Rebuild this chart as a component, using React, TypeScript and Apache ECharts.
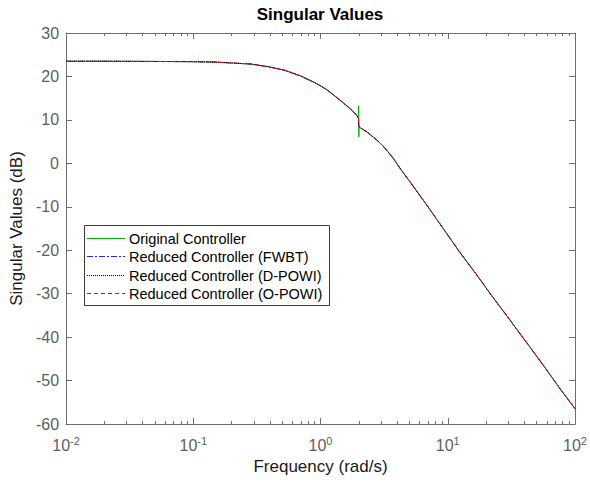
import React, { useEffect, useRef } from 'react';
import * as echarts from 'echarts';

// Frequencies (rad/s) at which the singular values were read
const FREQ = [
  0.01, 0.02, 0.05, 0.1, 0.15, 0.2, 0.285, 0.385, 0.52, 0.7, 0.94, 1.1, 1.27, 1.5, 1.71, 1.93,
  1.985, 1.995, 2.0, 2.01, 2.05, 2.3, 2.76, 3.1, 3.72, 4.3, 5.0, 6.8, 9.1, 12.3, 17, 22.3, 30,
  35, 45, 58, 75, 100,
];

// Singular values (dB)
const ORIGINAL_DB = [
  23.5, 23.5, 23.45, 23.4, 23.3, 23.1, 22.85, 22.25, 21.45, 20.1, 18.3, 17.1, 15.7, 14.0, 12.6, 11.0,
  10.4, 13.2, 6.1, 8.5, 8.2, 7.3, 5.4, 4.0, 1.2, -1.5, -4.1, -9.5, -14.8, -20.3, -25.8, -30.6, -35.6,
  -38.3, -42.6, -47.0, -51.6, -56.5,
];
const FWBT_DB = [
  23.5, 23.5, 23.45, 23.4, 23.3, 23.1, 22.85, 22.25, 21.45, 20.1, 18.3, 17.1, 15.7, 14.0, 12.6, 11.0,
  10.4, 10.3, 8.4, 8.5, 8.2, 7.3, 5.4, 4.0, 1.2, -1.5, -4.1, -9.5, -14.8, -20.3, -25.8, -30.6, -35.6,
  -38.3, -42.6, -47.0, -51.6, -56.5,
];
const DPOWI_DB = [
  23.5, 23.5, 23.45, 23.4, 23.3, 23.1, 22.85, 22.25, 21.45, 20.1, 18.3, 17.1, 15.7, 14.0, 12.6, 11.0,
  10.4, 10.3, 8.4, 8.5, 8.2, 7.3, 5.4, 4.0, 1.2, -1.5, -4.1, -9.5, -14.8, -20.3, -25.8, -30.6, -35.6,
  -38.3, -42.6, -47.0, -51.6, -56.5,
];
const OPOWI_DB = [
  23.5, 23.5, 23.45, 23.4, 23.3, 23.1, 22.85, 22.25, 21.45, 20.1, 18.3, 17.1, 15.7, 14.0, 12.6, 11.0,
  10.4, 10.3, 8.4, 8.5, 8.2, 7.3, 5.4, 4.0, 1.2, -1.5, -4.1, -9.5, -14.8, -20.3, -25.8, -30.6, -35.6,
  -38.3, -42.6, -47.0, -51.6, -56.5,
];

const SERIES_NAMES = [
  'Original Controller',
  'Reduced Controller (FWBT)',
  'Reduced Controller (D-POWI)',
  'Reduced Controller (O-POWI)',
];

const MINOR_TICKS = [
  0.02, 0.03, 0.04, 0.05, 0.06, 0.07, 0.08, 0.09,
  0.2, 0.3, 0.4, 0.5, 0.6, 0.7, 0.8, 0.9,
  2, 3, 4, 5, 6, 7, 8, 9,
  20, 30, 40, 50, 60, 70, 80, 90,
];

const TITLE = 'Singular Values';
const X_NAME = 'Frequency (rad/s)';
const Y_NAME = 'Singular Values (dB)';

const FONT = '"Liberation Sans", Arial, Helvetica, sans-serif';
const AXIS_COLOR = '#6e6e6e';
const LABEL_COLOR = '#5e5e5e';

const STYLES: { color: string; type: any; width: number }[] = [
  { color: '#00b000', type: 'solid', width: 1 },
  { color: '#2020ff', type: [6, 2, 2, 2], width: 1 },
  { color: '#000000', type: [1, 1], width: 1 },
  { color: '#ff0000', type: [4, 3], width: 1 },
];

const GRID = { left: 63, right: 13, top: 33, bottom: 58 };

export default function App() {
  const ref = useRef<HTMLDivElement>(null);

  useEffect(() => {
    document.body.style.margin = '0';
    if (!ref.current) return;
    const chart = echarts.init(ref.current, undefined, { renderer: 'svg' });

    const seriesData = [ORIGINAL_DB, FWBT_DB, DPOWI_DB, OPOWI_DB];

    const baseX = {
      type: 'log' as const,
      logBase: 10,
      min: 0.01,
      max: 100,
      gridIndex: 0,
      splitLine: { show: false },
      minorTick: { show: false },
    };

    const legendX = 84;
    const legendY = 225;
    const rowGap = 18.5;
    const legendGraphics: any[] = [
      {
        type: 'rect',
        shape: { x: legendX + 0.5, y: legendY + 0.5, width: 245, height: 80 },
        style: { fill: '#ffffff', stroke: '#3a3a3a', lineWidth: 1 },
        z: 100,
      },
    ];
    SERIES_NAMES.forEach((name, i) => {
      const cy = Math.round(legendY + 12.5 + i * rowGap) + 0.5;
      const lineStyle: any = { stroke: STYLES[i].color, lineWidth: 1 };
      if (Array.isArray(STYLES[i].type)) lineStyle.lineDash = STYLES[i].type;
      legendGraphics.push({
        type: 'line',
        shape: { x1: legendX + 3, y1: cy, x2: legendX + 41, y2: cy },
        style: lineStyle,
        z: 101,
      });
      legendGraphics.push({
        type: 'text',
        x: legendX + 45,
        y: cy,
        style: {
          text: name,
          fill: '#000000',
          font: `14.5px ${FONT}`,
          verticalAlign: 'middle',
          align: 'left',
        },
        z: 101,
      });
    });

    const option: any = {
      animation: false,
      backgroundColor: '#ffffff',
      grid: { ...GRID, containLabel: false },
      graphic: [
        {
          type: 'text',
          x: 320,
          y: 14,
          style: {
            text: TITLE,
            fill: '#000000',
            font: `bold 17px ${FONT}`,
            align: 'center',
            verticalAlign: 'middle',
          },
        },
        ...legendGraphics,
      ],
      xAxis: [
        {
          ...baseX,
          position: 'bottom',
          name: X_NAME,
          nameLocation: 'middle',
          nameGap: 34,
          nameTextStyle: { fontSize: 17, color: '#1a1a1a', fontFamily: FONT },
          axisLine: { show: true, onZero: false, lineStyle: { color: AXIS_COLOR, width: 1 } },
          axisTick: { show: true, inside: true, length: 6, lineStyle: { color: AXIS_COLOR } },
          axisLabel: {
            show: true,
            margin: 11,
            formatter: (v: number) => {
              const e = Math.round(Math.log10(v));
              return `{b|10}{s|${e}}`;
            },
            rich: {
              b: { fontSize: 16, color: LABEL_COLOR, fontFamily: FONT },
              s: {
                fontSize: 11,
                color: LABEL_COLOR,
                fontFamily: FONT,
                verticalAlign: 'bottom',
                padding: [0, 0, 9, 0],
              },
            },
          },
        },
        {
          ...baseX,
          position: 'bottom',
          axisLine: { show: false, onZero: false },
          axisLabel: { show: false },
          axisTick: {
            show: true,
            inside: true,
            length: 3,
            customValues: MINOR_TICKS,
            lineStyle: { color: AXIS_COLOR },
          },
        },
        {
          ...baseX,
          position: 'top',
          axisLine: { show: true, onZero: false, lineStyle: { color: AXIS_COLOR, width: 1 } },
          axisLabel: { show: false },
          axisTick: { show: true, inside: true, length: 6, lineStyle: { color: AXIS_COLOR } },
        },
        {
          ...baseX,
          position: 'top',
          axisLine: { show: false, onZero: false },
          axisLabel: { show: false },
          axisTick: {
            show: true,
            inside: true,
            length: 3,
            customValues: MINOR_TICKS,
            lineStyle: { color: AXIS_COLOR },
          },
        },
      ],
      yAxis: [
        {
          type: 'value',
          position: 'left',
          min: -60,
          max: 30,
          interval: 10,
          name: Y_NAME,
          nameLocation: 'middle',
          nameGap: 33,
          nameTextStyle: { fontSize: 17, color: '#1a1a1a', fontFamily: FONT },
          splitLine: { show: false },
          axisLine: { show: true, onZero: false, lineStyle: { color: AXIS_COLOR, width: 1 } },
          axisTick: { show: true, inside: true, length: 6, lineStyle: { color: AXIS_COLOR } },
          axisLabel: { show: true, margin: 7, fontSize: 16, color: LABEL_COLOR, fontFamily: FONT },
        },
        {
          type: 'value',
          position: 'right',
          min: -60,
          max: 30,
          interval: 10,
          splitLine: { show: false },
          axisLine: { show: true, onZero: false, lineStyle: { color: AXIS_COLOR, width: 1 } },
          axisTick: { show: true, inside: true, length: 6, lineStyle: { color: AXIS_COLOR } },
          axisLabel: { show: false },
        },
      ],
      series: SERIES_NAMES.map((name, i) => ({
        name,
        type: 'line',
        xAxisIndex: 0,
        yAxisIndex: 0,
        showSymbol: false,
        symbol: 'none',
        silent: true,
        z: 2 + i,
        data: FREQ.map((f, k) => [f, seriesData[i][k]]),
        lineStyle: { color: STYLES[i].color, width: STYLES[i].width, type: STYLES[i].type },
      })),
    };

    chart.setOption(option);
    return () => chart.dispose();
  }, []);

  return <div ref={ref} style={{ width: 590, height: 482 }} />;
}
